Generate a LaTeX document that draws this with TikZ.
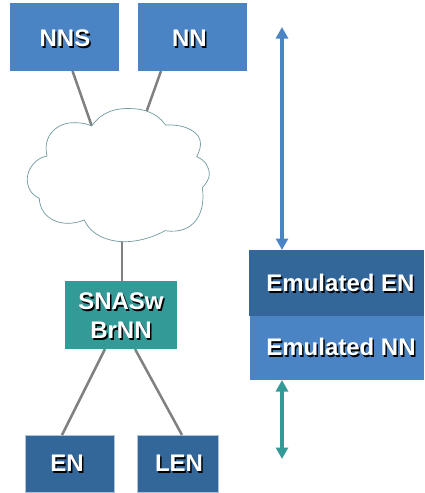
\documentclass[tikz,border=0pt]{standalone}
\usepackage{fontspec}
\setmainfont{Liberation Sans}
\usetikzlibrary{arrows.meta}
\definecolor{blueA}{HTML}{4A84C4}
\definecolor{blueB}{HTML}{336699}
\definecolor{tealA}{HTML}{339A98}
\definecolor{lineG}{HTML}{808080}
\definecolor{cloudL}{HTML}{6F9A9F}
% #1 horizontal offset, #2 baseline offset from the node centre, #3 text with a black shadow
\newcommand{\shtxt}[3]{\raisebox{#2}[0pt][0pt]{\makebox[0pt][c]{\kern#1\kern#1\rlap{\kern1.5pt\raisebox{-1.5pt}{\textcolor{black}{#3}}}\textcolor{white}{#3}}}}
\tikzset{
  x=1pt,y=-1pt,
  boxbase/.style={anchor=north west,inner sep=0pt,outer sep=0pt,align=center,
    font=\fontsize{24}{29}\selectfont\bfseries},
  boxA/.style={boxbase,fill=blueA},
  boxB/.style={boxbase,fill=blueB,draw=blueB!40!white,line width=0.5pt},
  boxT/.style={boxbase,fill=tealA},
  wire/.style={draw=lineG,line width=2.5pt},
  dbl/.style={line width=3.6pt,{Triangle[length=11.5pt,width=12pt]}-{Triangle[length=11.5pt,width=12pt]}},
  cloudshape/.style={draw=cloudL,line width=0.7pt,fill=white}
}
\begin{document}
\begin{tikzpicture}
\useasboundingbox (0,0) rectangle (424,493);
% boxes
\node[boxA,minimum width=109pt,minimum height=68pt] (nns) at (10,3) {\shtxt{0.5pt}{-9.6pt}{NNS}};
\node[boxA,minimum width=109pt,minimum height=68pt] (nn) at (138,3) {\shtxt{-3pt}{-9.6pt}{NN}};
\node[boxT,minimum width=112pt,minimum height=68pt] (snasw) at (65,281) {\shtxt{0pt}{-9pt}{SNASw}\\\shtxt{0pt}{-9pt}{BrNN}};
\node[boxB,minimum width=89pt,minimum height=57pt] (en) at (25.5,435) {\shtxt{-3pt}{-8pt}{EN}};
\node[boxB,minimum width=81pt,minimum height=57pt] (len) at (137.5,435) {\shtxt{1pt}{-8pt}{LEN}};
\node[boxB,draw=none,minimum width=175pt,minimum height=66pt] (emen) at (249,250) {\shtxt{4pt}{-8.6pt}{Emulated EN}};
\node[boxA,minimum width=174pt,minimum height=64pt] (emnn) at (250,316) {\shtxt{4pt}{-7.6pt}{Emulated NN}};
% cloud attachment points
\coordinate (cA) at (92.5,128);
\coordinate (cB) at (146,113);
\coordinate (cC) at (122,240);
% free ends of the arrows
\coordinate (blueTop) at (282,27);
\coordinate (blueBot) at (282,250);
\coordinate (tealTop) at (282,380);
\coordinate (tealBot) at (282,459);
% points where the wires leave the boxes
\path (nns.south west) ++(62.5,0) coordinate (nnsOut);
\path (nn.south west) ++(23,0) coordinate (nnOut);
\path (snasw.south west) ++(40,0) coordinate (sL);
\path (snasw.south west) ++(70,0) coordinate (sR);
\path (en.north west) ++(36.5,0) coordinate (eT);
\path (len.north west) ++(44.5,0) coordinate (lT);
% connectors
\draw[wire] (nnsOut) -- (cA);
\draw[wire] (nnOut) -- (cB);
\draw[wire] (cC) -- (snasw.north west -| cC);
\draw[wire] (sL) -- (eT);
\draw[wire] (sR) -- (lT);
% cloud
\path[cloudshape] (91.7,126)
  .. controls (103,110) and (118,108.5) .. (129,108.5)
  .. controls (144,108.5) and (157,113) .. (165.7,125)
  .. controls (185,124) and (201,132) .. (200.5,144)
  .. controls (200.5,148) and (199,152) .. (196.7,156.7)
  .. controls (205,160) and (209.5,167) .. (209.3,175)
  .. controls (209,179) and (206,184) .. (202.3,187.7)
  .. controls (206,212) and (195,235) .. (165,230.7)
  .. controls (150,239) and (135,241.7) .. (125,241.7)
  .. controls (108,241.7) and (91,235) .. (84.3,220)
  .. controls (62,229) and (40,219) .. (39.3,198.3)
  .. controls (30,194) and (27,186) .. (27.3,178)
  .. controls (28,168) and (36,158) .. (47,156)
  .. controls (42,135) and (58,122) .. (75,122.7)
  .. controls (82,122.7) and (88,124) .. (91.7,126) -- cycle;
% arrows
\draw[dbl,draw=blueA,fill=blueA] (blueTop) -- (blueBot);
\draw[dbl,draw=tealA,fill=tealA] (tealTop) -- (tealBot);
\end{tikzpicture}
\end{document}
